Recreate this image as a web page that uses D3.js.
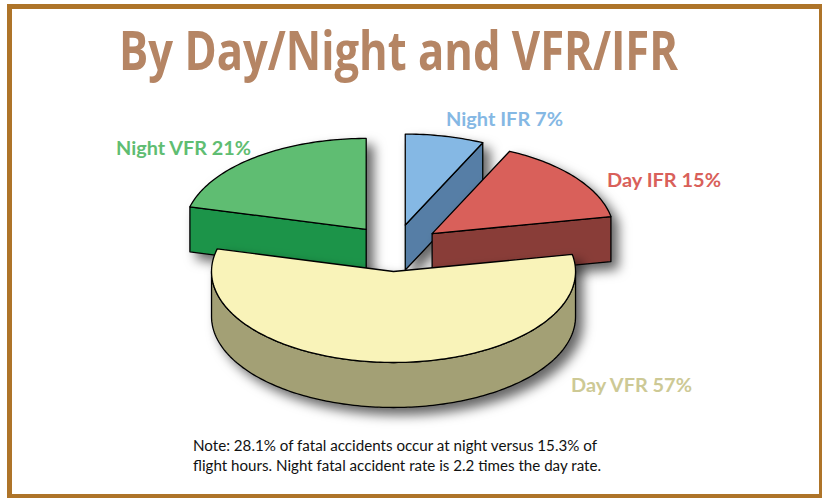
<!DOCTYPE html>
<html>
<head>
<meta charset="utf-8">
<script src="https://cdn.jsdelivr.net/npm/d3@7"></script>
<style>
  html, body { margin: 0; padding: 0; background: #fff; }
  svg { display: block; }
  text { font-family: Lato, "Open Sans", sans-serif; }
</style>
</head>
<body>
<svg width="822" height="498"></svg>
<script>
// values
const categories = ['Night IFR', 'Day IFR', 'Day VFR', 'Night VFR'];
const shares = [7, 15, 57, 21];
const topColors = ['#85b8e4', '#d9605a', '#f9f3b9', '#5fbd72'];
const sideColors = ['#567ea6', '#893c38', '#a3a075', '#1b9449'];
const labelColors = ['#85b8e4', '#d9605a', '#cdc995', '#5fbd72'];
const labelAnchors = [[446, 126, 117], [607, 187, 114], [571, 392, 121], [116, 155, 135]];
const noteLines = [
    'Note:  28.1% of fatal accidents occur at night versus 15.3% of',
    'flight hours. Night fatal accident rate is 2.2 times the day rate.'
];

const svg = d3.select('svg');

const defs = svg.append('defs');
const shadow = defs.append('filter').attr('id', 'soft')
    .attr('x', '-20%').attr('y', '-20%').attr('width', '150%').attr('height', '150%');
shadow.append('feDropShadow')
    .attr('dx', 7).attr('dy', 7).attr('stdDeviation', 6)
    .attr('flood-color', '#000').attr('flood-opacity', 0.6);

// frame, runs off the right edge a little like the original
svg.append('rect')
    .attr('x', 9.5).attr('y', 6.5).attr('width', 812).attr('height', 490)
    .attr('fill', 'none').attr('stroke', '#ae7429').attr('stroke-width', 5);

// title
svg.append('text')
    .attr('x', 119).attr('y', 70)
    .attr('textLength', 559).attr('lengthAdjust', 'spacingAndGlyphs')
    .attr('font-size', 54).attr('font-weight', 700)
    .style('font-family', '"Open Sans", sans-serif')
    .attr('fill', '#b58564')
    .text('By Day/Night and VFR/IFR');

// pie, tilted: a circle of radius 182 squashed in y, each slice pushed out 47
const pie = d3.pie().sort(null).value(d => d.share);
const slices = pie(categories.map((c, i) => ({ name: c, share: shares[i], i: i })));

const cx = 395, cy = 248, depth = 45, explode = 47;
const x = d3.scaleLinear().domain([-1, 1]).range([cx - 182, cx + 182]);
const y = d3.scaleLinear().domain([-1, 1]).range([cy - 91, cy + 91]);
const line = d3.line().x(d => d[0]).y(d => d[1]);

function rim(a0, a1, ox, oy, drop) {
    const n = Math.max(2, Math.ceil((a1 - a0) / 0.02));
    return d3.range(n + 1).map(k => {
        const a = a0 + (a1 - a0) * k / n;
        return [x(Math.sin(a)) + ox, y(-Math.cos(a)) + oy + drop];
    });
}

// back slices first, big front slice on top
const order = [0, 3, 1, 2];
order.forEach(i => {
    const s = slices[i];
    const mid = (s.startAngle + s.endAngle) / 2;
    const ox = x(Math.sin(mid) * explode / 182) - cx;
    const oy = y(-Math.cos(mid) * explode / 182) - cy;
    const apex = [cx + ox, cy + oy];
    const g = svg.append('g').attr('filter', 'url(#soft)')
        .attr('stroke', '#000').attr('stroke-width', 1.3).attr('stroke-linejoin', 'round');

    // cut faces that look toward the viewer
    [s.startAngle, s.endAngle].forEach((a, j) => {
        const facing = j === 0 ? Math.sin(a) < -1e-6 : Math.sin(a) > 1e-6;
        if (!facing) return;
        const e = rim(a, a, ox, oy, 0)[0];
        g.append('path')
            .attr('d', line([apex, e, [e[0], e[1] + depth], [apex[0], apex[1] + depth]]) + 'Z')
            .attr('fill', sideColors[i]);
    });

    // curved wall, front half only
    const a0 = Math.max(s.startAngle, Math.PI / 2), a1 = Math.min(s.endAngle, Math.PI * 1.5);
    if (a1 > a0) {
        const upper = rim(a0, a1, ox, oy, 0);
        const lower = rim(a0, a1, ox, oy, depth).reverse();
        g.append('path').attr('d', line(upper.concat(lower)) + 'Z').attr('fill', sideColors[i]);
    }

    // top surface
    g.append('path')
        .attr('d', line([apex].concat(rim(s.startAngle, s.endAngle, ox, oy, 0))) + 'Z')
        .attr('fill', topColors[i]);
});

// slice labels
svg.selectAll('text.label')
    .data(slices)
    .enter().append('text')
    .classed('label', true)
    .attr('x', (d, i) => labelAnchors[i][0])
    .attr('y', (d, i) => labelAnchors[i][1])
    .attr('textLength', (d, i) => labelAnchors[i][2])
    .attr('lengthAdjust', 'spacingAndGlyphs')
    .attr('font-size', 19).attr('font-weight', 700)
    .attr('fill', (d, i) => labelColors[i])
    .text(d => d.data.name + ' ' + d.data.share + '%');

// note
svg.selectAll('text.note')
    .data(noteLines)
    .enter().append('text')
    .classed('note', true)
    .attr('x', 193)
    .attr('y', (d, i) => 451 + i * 19.5)
    .attr('textLength', (d, i) => i === 0 ? 404 : 408)
    .attr('lengthAdjust', 'spacingAndGlyphs')
    .attr('font-size', 14.5)
    .attr('fill', '#111')
    .text(d => d);
</script>
</body>
</html>
